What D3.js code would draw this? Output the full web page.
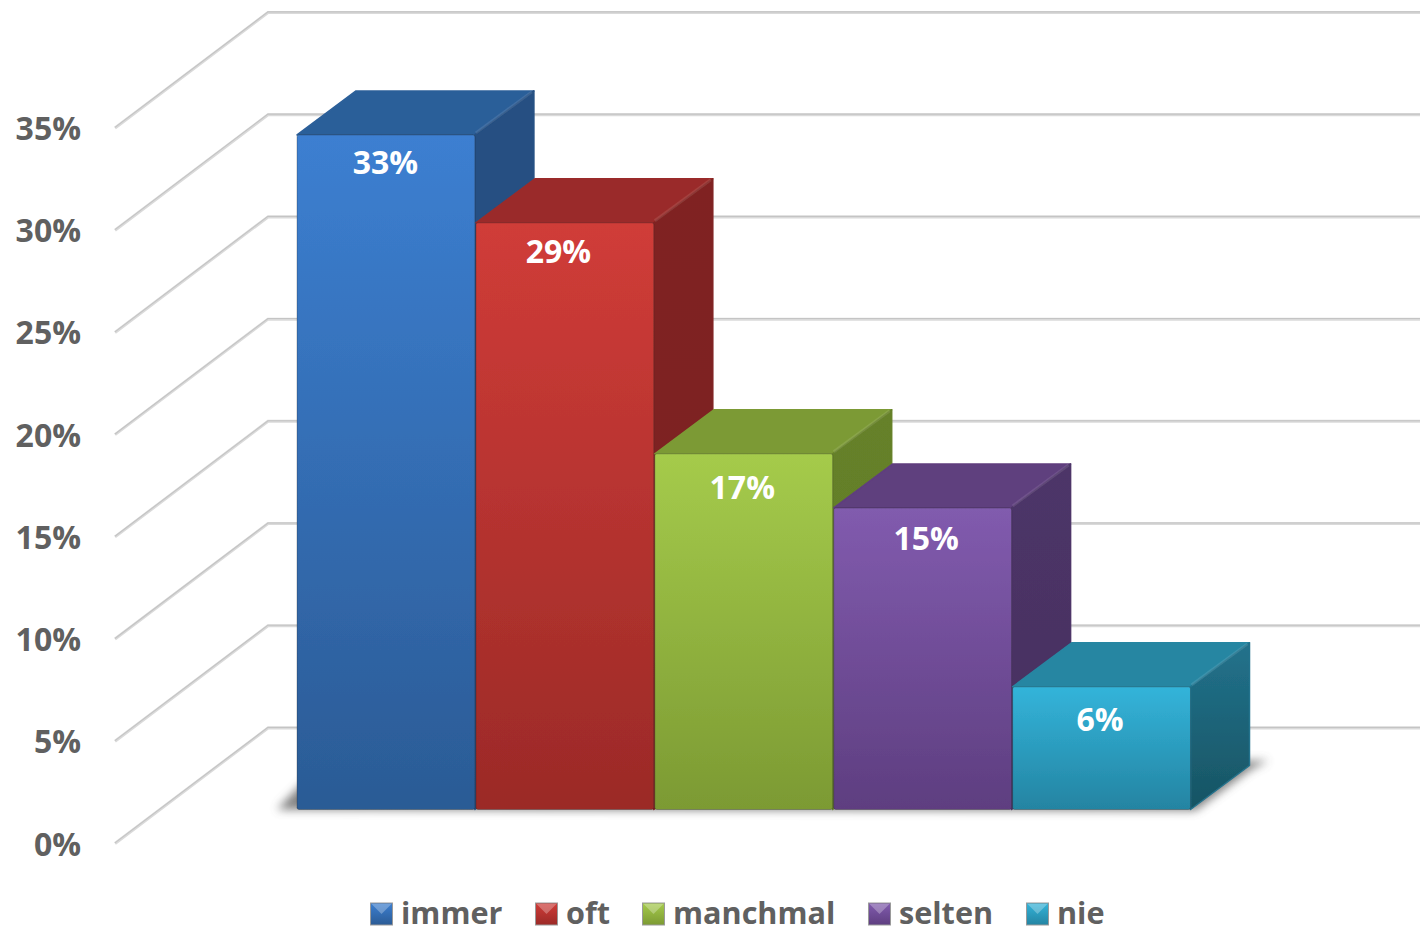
<!DOCTYPE html>
<html><head><meta charset="utf-8">
<script src="https://cdn.jsdelivr.net/npm/d3@7"></script>
<style>html,body{margin:0;padding:0;background:#fff;overflow:hidden}svg{display:block}text{font-family:"Open Sans",sans-serif;font-weight:700}</style>
</head><body><svg id="c" width="1420" height="930"></svg>
<script>
const categories=["immer","oft","manchmal","selten","nie"];
const values=[33,28.7,17.4,14.75,6];
const ticks=[0,5,10,15,20,25,30,35];
const frontTop=["#3c7fd1","#d03c38","#a5cb4b","#815bae","#33b4da"];
const frontBottom=["#2b5b95","#9b2a27","#7c9a33","#5e3e80","#2484a2"];
const topFace=["#2c5f99","#9a2c2a","#7c9a35","#5f3f7e","#2686a2"];
const sideTop=["#254f82","#802321","#668129","#4d3568","#22728c"];
const sideBottom=["#254f82","#7a211f","#5f7a27","#47305f","#175463"];
const labelNudgeX=[-1,-7,-2,3,-2];
const labelNudgeY=[28,29,34,31,33];
const legendX=[370.5,535.5,642.5,868.5,1026.5];

const svg=d3.select("#c"),defs=svg.append("defs");
const W=1420,wall={dx:153,dy:-115.5},depth={dx:59,dy:-44};
const pct=d3.format(".0%");
const y=d3.scaleLinear().domain([0,35]).range([843.5,128]);   // axis plane
const barY=d3.scaleLinear().domain([0,35]).range([809.5,94]); // front plane of bars
const x=d3.scaleBand().domain(categories).range([297,1191.5]);

function grad(id,a,b){const g=defs.append("linearGradient").attr("id",id).attr("x1",0).attr("x2",0).attr("y1",0).attr("y2",1);
 g.append("stop").attr("offset","0%").attr("stop-color",a);g.append("stop").attr("offset","100%").attr("stop-color",b);}
categories.forEach((c,i)=>{grad("f"+i,frontTop[i],frontBottom[i]);grad("s"+i,sideTop[i],sideBottom[i]);});
defs.append("filter").attr("id","blur").attr("x","-10%").attr("y","-100%").attr("width","120%").attr("height","300%")
 .append("feGaussianBlur").attr("stdDeviation",5);
defs.append("filter").attr("id","soft").append("feGaussianBlur").attr("stdDeviation",0.5);
defs.append("filter").attr("id","edge").attr("x","-2%").attr("y","-2%").attr("width","104%").attr("height","104%")
 .append("feGaussianBlur").attr("stdDeviation",0.45);

// gridlines
const gridPath=(d,o)=>d3.line()([[115,y(d)+o],[115+wall.dx,y(d)+wall.dy+o],[W,y(d)+wall.dy+o]]);
svg.append("g").selectAll("path").data(ticks).join("path")
 .attr("d",d=>gridPath(d,0)).attr("fill","none").attr("stroke","#dadada").attr("stroke-width",3);
svg.append("g").selectAll("path").data(ticks).join("path")
 .attr("d",d=>gridPath(d,-0.6)).attr("fill","none").attr("stroke","#c4c4c4").attr("stroke-width",1.1);

// axis labels
svg.append("g").selectAll("text").data(ticks).join("text")
 .attr("x",81).attr("y",d=>y(d)+0.5).attr("dy","0.36em").attr("text-anchor","end")
 .attr("font-size",32).attr("fill","#606060").text(d=>pct(d/100));

// floor shadow
const x0=x.range()[0],x1=x.range()[1],b0=barY(0);
svg.append("path").attr("filter","url(#blur)").attr("fill","#555").attr("opacity",.75)
 .attr("d",d3.line()([[x0-20,b0],[x0+depth.dx*.1,b0+depth.dy*.6],[x1+depth.dx+18,b0+depth.dy-5],[x1+depth.dx,b0+depth.dy+4],[x1+4,b0+1]])+"Z");
svg.append("line").attr("x1",x0-10).attr("x2",x1).attr("y1",b0+2).attr("y2",b0+2).attr("stroke","#bbb").attr("stroke-width",2).attr("filter","url(#soft)");

// bars: drawn in category order so each bar overlaps the side face of the one before it
const bars=svg.append("g").selectAll("g").data(categories.map((c,i)=>({c,i,v:values[i]}))).join("g");
const bw=x.bandwidth()-1;
bars.each(function(d){
 const g=d3.select(this).attr("filter","url(#edge)"),l=x(d.c),r=l+bw,t=barY(d.v),b=barY(0),dx=depth.dx,dy=depth.dy;
 g.append("path").attr("fill",topFace[d.i]).attr("stroke",topFace[d.i]).attr("stroke-width",1.5).attr("stroke-linejoin","round")
  .attr("d",d3.line()([[l,t],[l+dx,t+dy],[r+dx,t+dy],[r,t]])+"Z");
 g.append("path").attr("fill",`url(#s${d.i})`).attr("stroke",sideTop[d.i]).attr("stroke-width",1.5).attr("stroke-linejoin","round")
  .attr("d",d3.line()([[r,t],[r+dx,t+dy],[r+dx,b+dy],[r,b]])+"Z");
 g.append("rect").attr("x",l).attr("y",t).attr("width",bw).attr("height",b-t).attr("rx",2).attr("fill",`url(#f${d.i})`)
  .attr("stroke","#222").attr("stroke-opacity",.3).attr("stroke-width",1);
 g.append("path").attr("fill","none").attr("stroke","#fff").attr("stroke-opacity",.1).attr("stroke-width",3)
  .attr("d",d3.line()([[r+1,t-2],[r+dx-2,t+dy+1]]));
});
// value labels
svg.append("g").selectAll("text").data(categories).join("text")
 .attr("x",(c,i)=>x(c)+x.bandwidth()/2+labelNudgeX[i])
 .attr("y",(c,i)=>barY(values[i])+labelNudgeY[i]).attr("dy","0.36em").attr("text-anchor","middle")
 .attr("font-size",32).attr("fill","#fff").text((c,i)=>pct(Math.round(values[i])/100));

// legend
const leg=svg.append("g").selectAll("g").data(categories).join("g")
 .attr("transform",(c,i)=>`translate(${legendX[i]},903)`);
leg.append("rect").attr("width",22).attr("height",22).attr("fill",(c,i)=>`url(#f${i})`).attr("stroke","#9a9a9a").attr("stroke-width",1);
leg.append("path").attr("d",d3.line()([[1,1],[21,1],[11,11]])+"Z").attr("fill","#fff").attr("opacity",.28);
leg.append("text").attr("x",30.5).attr("y",10).attr("dy","0.36em").attr("font-size",30.6).attr("fill","#606060").text(c=>c);
</script></body></html>
